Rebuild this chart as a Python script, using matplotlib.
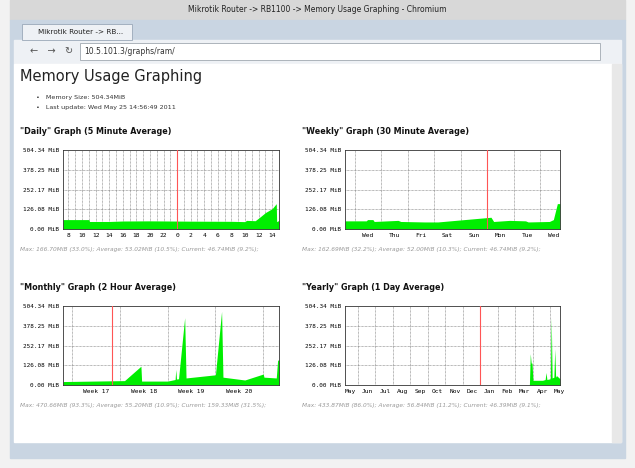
import matplotlib
matplotlib.use('Agg')
import matplotlib.pyplot as plt
import matplotlib.patches as mpatches

W, H = 635, 468

# y axis ticks (MiB)
y_ticks = [0, 126.08, 252.17, 378.25, 504.34]
y_labels = ['0.00 MiB', '126.08 MiB', '252.17 MiB', '378.25 MiB', '504.34 MiB']

# daily: hours (24 = midnight)
daily_x = [7.2, 11.0, 11.1, 14.0, 16.0, 20.0, 26.0, 32.0, 34.0, 34.2, 35.5, 36.3, 37.0, 38.0, 38.6, 38.65, 39.0]
daily_y = [60, 60, 48, 48, 51, 52, 50, 49, 47, 55, 53, 80, 105, 130, 162, 47, 55]
daily_ticks = [8, 10, 12, 14, 16, 18, 20, 22, 24, 26, 28, 30, 32, 34, 36, 38]
daily_tick_labels = ['8', '10', '12', '14', '16', '18', '20', '22', '0', '2', '4', '6', '8', '10', '12', '14']

# weekly: days
weekly_x = [0, 0.8, 0.85, 1.05, 1.1, 2.0, 2.1, 3.0, 3.5, 4.5, 5.5, 5.6, 6.2, 6.8, 6.9, 7.7, 7.85, 8.0, 8.1]
weekly_y = [52, 52, 60, 60, 48, 55, 48, 45, 45, 60, 75, 48, 55, 52, 45, 48, 60, 162, 162]
weekly_tick_labels = ['Wed', 'Thu', 'Fri', 'Sat', 'Sun', 'Mon', 'Tue', 'Wed']

# monthly: days
monthly_x = [0, 9.0, 11.4, 11.5, 15.3, 16.4, 16.5, 16.6, 16.9, 17.8, 18.0, 22.3, 23.2, 23.4, 26.6, 29.3, 29.4, 31.2, 31.4, 31.6]
monthly_y = [22, 28, 120, 25, 25, 35, 100, 38, 40, 430, 45, 65, 470, 50, 32, 70, 50, 45, 159, 159]
monthly_tick_labels = ['Week 17', 'Week 18', 'Week 19', 'Week 20']

# yearly: months
yearly_x = [0, 10.55, 10.6, 10.65, 10.7, 10.75, 11.3, 11.45, 11.5, 11.55, 11.75, 11.8, 11.85, 11.95, 12.0, 12.05, 12.1, 12.3]
yearly_y = [0, 0, 200, 140, 140, 30, 30, 35, 80, 35, 40, 430, 45, 50, 230, 50, 60, 40]
yearly_tick_labels = ['May', 'Jun', 'Jul', 'Aug', 'Sep', 'Oct', 'Nov', 'Dec', 'Jan', 'Feb', 'Mar', 'Apr', 'May']

fig = plt.figure(figsize=(W / 100, H / 100), dpi=100)

# browser chrome
bg = fig.add_axes([0, 0, 1, 1])
bg.set_xlim(0, W)
bg.set_ylim(H, 0)
bg.axis('off')
bg.add_patch(mpatches.Rectangle((0, 0), W, H, color='#f2f2f2'))
bg.add_patch(mpatches.Rectangle((10, 0), W - 20, 20, color='#d8d8d8'))
bg.add_patch(mpatches.Rectangle((10, 20), W - 20, H - 30, color='#c9d5e2'))
bg.add_patch(mpatches.Rectangle((14, 40), W - 28, 24, color='#eef1f5'))
bg.add_patch(mpatches.Rectangle((22, 24), 110, 16, color='#eef1f5', ec='#9aa8b8', lw=0.6))
bg.add_patch(mpatches.Rectangle((80, 43), 520, 17, color='white', ec='#a0a8b0', lw=0.6))
bg.add_patch(mpatches.Rectangle((14, 64), W - 28, H - 74 - 16, color='white'))
bg.add_patch(mpatches.Rectangle((612, 64), 9, H - 90, color='#e8e8e8'))
bg.text(W / 2, 10, 'Mikrotik Router -> RB1100 -> Memory Usage Graphing - Chromium',
        ha='center', va='center', fontsize=5.5, color='#222222')
bg.text(38, 32, 'Mikrotik Router -> RB...', ha='left', va='center', fontsize=5.2, color='#222222')
bg.text(30, 51, '\u2190   \u2192   \u21bb', ha='left', va='center', fontsize=7, color='#555555')
bg.text(84, 51, '10.5.101.3/graphs/ram/', ha='left', va='center', fontsize=5.5, color='#333333')
bg.text(20, 76, 'Memory Usage Graphing', ha='left', va='center', fontsize=10.5, color='#222222')
bg.text(36, 97, '\u2022   Memory Size: 504.34MiB', ha='left', va='center', fontsize=4.6, color='#333333')
bg.text(36, 107, '\u2022   Last update: Wed May 25 14:56:49 2011', ha='left', va='center', fontsize=4.6, color='#333333')


def make_axes(x0, y0, x1, y1):
    return fig.add_axes([x0 / W, 1 - y1 / H, (x1 - x0) / W, (y1 - y0) / H])


def draw_graph(rect, title, stats, x, y, xlim, grid, ticks, labels, red):
    ax = make_axes(*rect)
    ax.fill_between(x, 0, y, color='#00ee00', lw=0, zorder=2)
    ax.set_xlim(*xlim)
    ax.set_ylim(0, 504.34)
    ax.set_yticks(y_ticks)
    ax.set_yticklabels(y_labels, fontsize=4.3, family='DejaVu Sans Mono')
    for g in grid:
        ax.axvline(g, color='#777777', lw=0.5, ls=(0, (1, 1)), zorder=1)
    for t in y_ticks[1:-1]:
        ax.axhline(t, color='#777777', lw=0.5, ls=(0, (1, 1)), zorder=1)
    ax.axvline(red, color='#ff5555', lw=0.8, zorder=3)
    ax.set_xticks(ticks)
    ax.set_xticklabels(labels, fontsize=4.5, family='DejaVu Sans Mono')
    ax.tick_params(length=0, pad=3)
    for s in ax.spines.values():
        s.set_linewidth(0.6)
        s.set_color('#333333')
    bg.text(rect[0] - 43, rect[1] - 19, title, ha='left', va='center', fontsize=5.8,
            color='#111111', weight='bold')
    bg.text(rect[0] - 43, rect[3] + 21, stats, ha='left', va='center', fontsize=4.2,
            color='#999999', style='italic')


draw_graph((63, 150, 279, 229), '"Daily" Graph (5 Minute Average)',
           'Max: 166.70MiB (33.0%); Average: 53.02MiB (10.5%); Current: 46.74MiB (9.2%);',
           daily_x, daily_y, (7.2, 39.0), [h for h in range(8, 39)], daily_ticks, daily_tick_labels, 24)

draw_graph((345, 150, 560, 229), '"Weekly" Graph (30 Minute Average)',
           'Max: 162.69MiB (32.2%); Average: 52.00MiB (10.3%); Current: 46.74MiB (9.2%);',
           weekly_x, weekly_y, (0, 8.1), [0.36 + k for k in range(8)],
           [0.86 + k for k in range(8)], weekly_tick_labels, 5.36)

draw_graph((63, 306, 279, 385), '"Monthly" Graph (2 Hour Average)',
           'Max: 470.66MiB (93.3%); Average: 55.20MiB (10.9%); Current: 159.33MiB (31.5%);',
           monthly_x, monthly_y, (0, 31.6), [1.3 + 7 * k for k in range(5)],
           [4.8 + 7 * k for k in range(4)], monthly_tick_labels, 7.2)

draw_graph((345, 306, 560, 385), '"Yearly" Graph (1 Day Average)',
           'Max: 433.87MiB (86.0%); Average: 56.84MiB (11.2%); Current: 46.39MiB (9.1%);',
           yearly_x, yearly_y, (0, 12.3), [0.74 + k for k in range(12)],
           [0.28 + k for k in range(13)], yearly_tick_labels, 7.74)

fig.savefig('out.png', dpi=100)
